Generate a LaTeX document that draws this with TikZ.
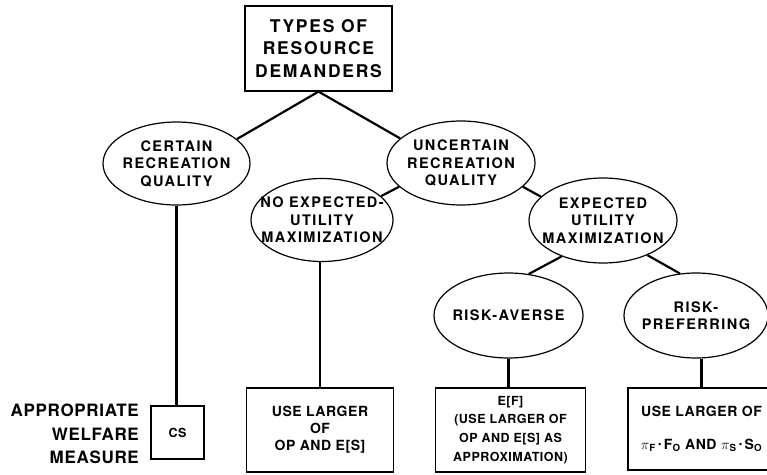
\documentclass[tikz,border=0pt]{standalone}
\usepackage{fontspec}
\setmainfont{TeX Gyre Heros}[LetterSpace=4,UprightFont=*-Bold]
\newfontfamily\widefont{TeX Gyre Heros}[LetterSpace=10,UprightFont=*-Bold]
\usetikzlibrary{shapes.geometric}
\begin{document}
\begin{tikzpicture}[x=1pt,y=-1pt,
  ell/.style={draw, ellipse, line width=1.2pt, inner sep=0pt},
  etext/.style={align=center, font=\widefont\fontsize{14.5}{17.5}\selectfont, inner sep=0pt},
  rbox/.style={draw, rectangle, line width=1.2pt, inner sep=0pt, align=center},
  conn/.style={line width=2.2pt}]
\useasboundingbox (0,0) rectangle (767,474);
\clip (0,0) rectangle (767,474);

% top box
\node[rbox, minimum width=147pt, minimum height=85pt, font=\widefont\fontsize{17.5}{22.5}\selectfont] (top) at (318.5,48.5) {TYPES OF\\RESOURCE\\DEMANDERS};

% ellipses
\node[ell, minimum width=147pt, minimum height=83pt] (cert) at (176.5,163.5) {};
\node[etext] (certT) at (cert.center) {CERTAIN\\RECREATION\\QUALITY};
\node[ell, minimum width=148pt, minimum height=84pt] (unc) at (461,163) {};
\node[etext] (uncT) at (unc.center) {UNCERTAIN\\RECREATION\\QUALITY};
\node[ell, minimum width=142pt, minimum height=83pt] (noexp) at (322,220) {};
\node[etext] (noexpT) at (noexp.center) {NO EXPECTED-\\UTILITY\\MAXIMIZATION};
\node[ell, minimum width=148pt, minimum height=85pt] (exp) at (603,220.5) {};
\node[etext] (expT) at (exp.center) {EXPECTED\\UTILITY\\MAXIMIZATION};
\node[ell, minimum width=149pt, minimum height=85pt] (ra) at (508.5,315.5) {};
\node[etext] (raT) at (ra.center) {RISK-AVERSE};
\node[ell, minimum width=144pt, minimum height=85pt] (rp) at (696,315.5) {};
\node[etext] (rpT) at (rp.center) {RISK-\\PREFERRING};

% bottom boxes
\node[rbox, minimum width=53pt, minimum height=53pt, font=\fontsize{12.5}{15}\selectfont] (cs) at (177.5,432.5) {CS};
\node[rbox, minimum width=147pt, minimum height=84pt, font=\fontsize{14}{17}\selectfont] (op) at (320,430) {USE LARGER\\OF\\OP AND E[S]};
\node[rbox, minimum width=150pt, minimum height=84pt, font=\fontsize{12.5}{18.7}\selectfont] (ef) at (510.5,430) {E[F]\\(USE LARGER OF\\OP AND E[S] AS\\APPROXIMATION)};
\node[rbox, minimum width=147pt, minimum height=82pt, font=\fontsize{14}{33}\selectfont] (pf) at (701.5,429) {USE LARGER OF\\\ensuremath{\pi}\textsubscript{F}\,\raisebox{0.3ex}{\scalebox{0.7}{\textbullet}}\,F\textsubscript{O} AND \ensuremath{\pi}\textsubscript{S}\,\raisebox{0.3ex}{\scalebox{0.7}{\textbullet}}\,S\textsubscript{O}};

% side label
\node[align=right, anchor=east, inner sep=0pt, font=\fontsize{17}{23.5}\selectfont] (lab) at (139,434) {APPROPRIATE\\WELFARE\\MEASURE};

% connectors
\draw[conn] (top.south) -- (cert.22);
\draw[conn] (top.south) -- (unc.158);
\draw[conn] (unc.-159) -- (noexp.22);
\draw[conn] (unc.-21) -- (exp.159);
\draw[conn] (exp.-139.5) -- (ra.64.5);
\draw[conn] (exp.-38.5) -- (rp.111);
\draw[conn] (cert.south) -- (cert.south |- cs.north);
\draw[conn] (op.north |- noexp.south) -- (op.north);
\draw[conn] (ra.south) -- (ra.south |- ef.north);
\draw[conn] (pf.north |- rp.south) -- (pf.north);
\end{tikzpicture}
\end{document}
